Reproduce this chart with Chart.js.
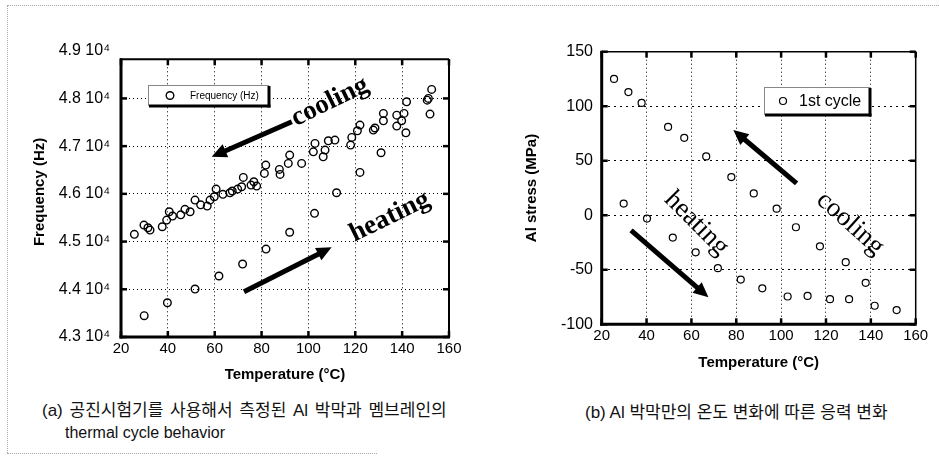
<!DOCTYPE html>
<html><head><meta charset="utf-8">
<script src="https://cdn.jsdelivr.net/npm/chart.js@4/dist/chart.umd.min.js"></script>
<style>
html,body{margin:0;padding:0;background:#fff;}
#page{position:relative;width:939px;height:466px;overflow:hidden;background:#fff;}
.fr{position:absolute;border:0 dotted #a8a8a8;}
canvas{position:absolute;top:0;}
.cap{position:absolute;font-family:"Liberation Sans","Noto Sans CJK KR",sans-serif;color:#111;white-space:nowrap;line-height:20px;}
</style></head>
<body><div id="page">
<div class="fr" style="left:7px;top:5px;width:932px;border-top-width:1px;"></div>
<div class="fr" style="left:7px;top:5px;height:448px;border-left-width:1px;"></div>
<div class="fr" style="left:7px;top:453px;width:370px;border-top-width:1px;"></div>
<canvas id="ca" width="470" height="400" style="left:0"></canvas>
<canvas id="cb" width="469" height="400" style="left:470px"></canvas>
<div class="cap" style="left:42px;top:401px;font-size:17px;word-spacing:2px;">(a) 공진시험기를 사용해서 측정된 Al 박막과 멤브레인의</div>
<div class="cap" style="left:65px;top:423px;font-size:16px;">thermal cycle behavior</div>
<div class="cap" style="left:585px;top:403px;font-size:17px;">(b) Al 박막만의 온도 변화에 따른 응력 변화</div>
</div>
<script>
// ---------- data ----------
const tempTicks = [20, 40, 60, 80, 100, 120, 140, 160];
const freqTickValues = [43000, 44000, 45000, 46000, 47000, 48000, 49000];
const freqTickLabels = ['4.3 10⁴', '4.4 10⁴', '4.5 10⁴', '4.6 10⁴', '4.7 10⁴', '4.8 10⁴', '4.9 10⁴'];
const stressTickValues = [-100, -50, 0, 50, 100, 150];

const freqLabel = 'Frequency (Hz)';
const freqTemp = [
  29.9, 39.8, 51.6, 61.8, 71.9, 81.9, 92.0, 102.6, 112.0, 122.0, 131.0,
  25.7, 29.8, 31.5, 32.4, 37.6, 39.5, 40.6, 42.0, 45.5, 47.3, 49.5, 51.6, 54.0, 56.8, 58.0,
  59.8, 60.6, 63.5, 66.5, 67.5, 69.8, 71.5, 72.2, 75.5, 76.7, 77.9, 81.2, 81.8, 87.6, 87.9,
  91.4, 92.0, 97.1, 102.1, 102.8, 106.3, 107.1, 108.5, 111.3, 118.0, 118.5, 120.9, 122.0,
  127.7, 128.4, 132.0, 132.0, 137.7, 137.7, 139.8, 140.8, 141.6, 141.9, 150.7, 151.2, 151.9, 152.6
];
const freqHz = [
  43446, 43718, 44005, 44278, 44529, 44843, 45195, 45591, 46023, 46450, 46862,
  45151, 45346, 45290, 45241, 45311, 45450, 45625, 45535, 45560, 45675, 45625, 45870, 45770, 45744, 45870,
  45939, 46100, 45990, 46022, 46060, 46100, 46148, 46345, 46184, 46253, 46163, 46429, 46603, 46513, 46408,
  46638, 46812, 46638, 46881, 47057, 46777, 46917, 47112, 47127, 47022, 47183, 47322, 47441,
  47336, 47380, 47531, 47686, 47420, 47650, 47531, 47686, 47280, 47929, 47964, 48000, 47671, 48189
];

const stressLabel = '1st cycle';
const stressTemp = [29.8, 40.2, 51.7, 61.9, 71.8, 82.0, 91.6, 102.9, 111.8, 121.8, 130.3, 141.7, 151.5,
  137.7, 128.8, 117.3, 106.6, 98.0, 87.8, 77.8, 66.6, 56.8, 49.6, 37.8, 31.9, 25.5];
const stressMPa = [10.7, -3, -20.5, -34, -48.5, -59, -67, -74.5, -74, -77, -77, -83, -87,
  -62, -43, -28.5, -11, 6, 20, 35, 54, 71, 81, 103, 113, 125];

// ---------- annotations (data coordinates) ----------
const notesA = {
  texts: [
    {text: 'cooling', x: 109.2, y: 47929, angle: -26, font: 'bold 27px "Liberation Serif"'},
    {text: 'heating', x: 134.8, y: 45520, angle: -26, font: 'bold 27px "Liberation Serif"'}
  ],
  arrows: [
    {from: [92.9, 47510], to: [58.7, 46777], width: 5},
    {from: [72.5, 43949], to: [109.9, 44879], width: 5}
  ]
};
const notesB = {
  texts: [
    {text: 'heating', x: 62.3, y: -7.6, angle: 45, font: '27px "Liberation Serif"'},
    {text: 'cooling', x: 130.8, y: -7.6, angle: 42, font: '27px "Liberation Serif"'}
  ],
  arrows: [
    {from: [33.1, -13.8], to: [67.6, -75.2], width: 5},
    {from: [106.9, 29.2], to: [78.7, 78.2], width: 5}
  ]
};

Chart.defaults.font.family = '"Liberation Sans", Arial, sans-serif';
Chart.defaults.color = '#000';

function line(ctx, x1, y1, x2, y2, w) {
  ctx.lineWidth = w; ctx.beginPath(); ctx.moveTo(x1, y1); ctx.lineTo(x2, y2); ctx.stroke();
}

const decor = {
  id: 'decor',
  afterDatasetsDraw(chart, args, o) {
    const ctx = chart.ctx;
    const {left, right, top, bottom} = chart.chartArea;
    const xs = chart.scales.x, ys = chart.scales.y;
    ctx.save();
    ctx.strokeStyle = '#000';
    ctx.lineCap = 'butt';
    // frame
    line(ctx, left - 1, top, right, top, o.thin);
    line(ctx, right, top, right, bottom, o.thin);
    line(ctx, left, top - 1, left, bottom + 1.5, 3);
    line(ctx, left - 1.5, bottom, right + 1, bottom, 3);
    // inward ticks
    xs.ticks.forEach(t => {
      const px = xs.getPixelForValue(t.value);
      line(ctx, px, bottom, px, bottom - 6, 2.5);
      line(ctx, px, top, px, top + 6, 2.5);
    });
    ys.ticks.forEach(t => {
      if (t.value > ys.max || t.value < ys.min) return;
      const py = ys.getPixelForValue(t.value);
      line(ctx, left, py, left + 6, py, 2.5);
      line(ctx, right, py, right - 6, py, 2.5);
    });
    // legend
    const L = o.legend;
    ctx.fillStyle = '#fff';
    ctx.fillRect(L.x, L.y, L.w, L.h);
    ctx.strokeStyle = '#888';
    line(ctx, L.x, L.y + 0.5, L.x + L.w, L.y + 0.5, 1);
    line(ctx, L.x + 0.5, L.y, L.x + 0.5, L.y + L.h, 1);
    ctx.strokeStyle = '#000';
    line(ctx, L.x + L.w, L.y + 1, L.x + L.w, L.y + L.h + 1.5, 3);
    line(ctx, L.x + 1, L.y + L.h, L.x + L.w + 1.5, L.y + L.h, 3);
    const ds = chart.data.datasets[0];
    ctx.lineWidth = ds.borderWidth;
    ctx.beginPath(); ctx.arc(L.mx, L.y + L.h / 2, ds.pointRadius, 0, Math.PI * 2); ctx.stroke();
    ctx.fillStyle = '#000';
    ctx.font = L.font;
    ctx.textAlign = 'left'; ctx.textBaseline = 'middle';
    ctx.fillText(ds.label, L.tx, L.y + L.h / 2 + 0.5);
    // annotations
    const n = o.notes;
    n.arrows.forEach(a => {
      const x1 = xs.getPixelForValue(a.from[0]), y1 = ys.getPixelForValue(a.from[1]);
      const x2 = xs.getPixelForValue(a.to[0]), y2 = ys.getPixelForValue(a.to[1]);
      const ang = Math.atan2(y2 - y1, x2 - x1);
      const hl = 15, hw = 7;
      const bx = x2 - hl * Math.cos(ang), by = y2 - hl * Math.sin(ang);
      ctx.strokeStyle = '#000';
      line(ctx, x1, y1, bx + Math.cos(ang), by + Math.sin(ang), a.width);
      ctx.beginPath();
      ctx.moveTo(x2, y2);
      ctx.lineTo(bx + hw * Math.sin(ang), by - hw * Math.cos(ang));
      ctx.lineTo(bx - hw * Math.sin(ang), by + hw * Math.cos(ang));
      ctx.closePath(); ctx.fill();
    });
    n.texts.forEach(t => {
      const px = xs.getPixelForValue(t.x), py = ys.getPixelForValue(t.y);
      ctx.save();
      ctx.translate(px, py); ctx.rotate(t.angle * Math.PI / 180);
      ctx.font = t.font; ctx.textAlign = 'center'; ctx.textBaseline = 'middle';
      ctx.fillStyle = '#000';
      ctx.fillText(t.text, 0, 0);
      ctx.restore();
    });
    ctx.restore();
  }
};

function pts(xa, ya) { return xa.map((x, i) => ({x: x, y: ya[i]})); }

// ---------- chart (a) ----------
const FMAX = 48820;
new Chart(document.getElementById('ca'), {
  type: 'scatter',
  data: {datasets: [{
    label: freqLabel, data: pts(freqTemp, freqHz),
    pointStyle: 'circle', pointRadius: 3.8, borderWidth: 1.4,
    borderColor: '#000', backgroundColor: 'rgba(255,255,255,0)'
  }]},
  plugins: [decor],
  options: {
    responsive: false, animation: false, devicePixelRatio: 1,
    layout: {padding: {left: 20, right: 21, top: 59.3, bottom: 16}},
    plugins: {
      legend: {display: false}, tooltip: {enabled: false},
      decor: {thin: 2, notes: notesA,
        legend: {x: 148, y: 85, w: 121, h: 21, mx: 170, tx: 190, font: '10px "Liberation Sans"'}}
    },
    scales: {
      x: {
        type: 'linear', min: 20, max: 160,
        afterBuildTicks: s => { s.ticks = tempTicks.map(v => ({value: v})); },
        afterFit: s => { s.height = 47; },
        grid: {color: '#000', lineWidth: 1, drawTicks: false},
        border: {display: false, dash: [1, 3]},
        ticks: {font: {size: 15}, padding: 3, autoSkip: false, maxRotation: 0},
        title: {display: true, text: 'Temperature (°C)', font: {size: 15, weight: 'bold'}, padding: {top: 0, bottom: 0}}
      },
      y: {
        type: 'linear', min: 43000, max: FMAX,
        afterBuildTicks: s => { s.ticks = freqTickValues.map(v => ({value: v})); },
        afterFit: s => { s.width = 101; },
        grid: {color: c => (c.tick && c.tick.value > FMAX) ? 'rgba(0,0,0,0)' : '#000', lineWidth: 1, drawTicks: false},
        border: {display: false, dash: [1, 3]},
        ticks: {font: {size: 16}, padding: 11, autoSkip: false,
          callback: v => freqTickLabels[freqTickValues.indexOf(v)]},
        title: {display: true, text: '   ' + 'Frequency (Hz)', font: {size: 15, weight: 'bold'}, padding: {top: 11, bottom: 0}}
      }
    }
  }
});

// ---------- chart (b) ----------
new Chart(document.getElementById('cb'), {
  type: 'scatter',
  data: {datasets: [{
    label: stressLabel, data: pts(stressTemp, stressMPa),
    pointStyle: 'circle', pointRadius: 3.5, borderWidth: 1.2,
    borderColor: '#000', backgroundColor: 'rgba(255,255,255,0)'
  }]},
  plugins: [decor],
  options: {
    responsive: false, animation: false, devicePixelRatio: 1,
    layout: {padding: {left: 40, right: 23.3, top: 51.7, bottom: 27.7}},
    plugins: {
      legend: {display: false}, tooltip: {enabled: false},
      decor: {thin: 1.5, notes: notesB,
        legend: {x: 294, y: 87, w: 106, h: 28, mx: 313, tx: 329, font: '16px "Liberation Sans"'}}
    },
    scales: {
      x: {
        type: 'linear', min: 20, max: 160,
        afterBuildTicks: s => { s.ticks = tempTicks.map(v => ({value: v})); },
        afterFit: s => { s.height = 48; },
        grid: {color: '#000', lineWidth: 1, drawTicks: false},
        border: {display: false, dash: [1, 3]},
        ticks: {font: {size: 15}, padding: 3, autoSkip: false, maxRotation: 0},
        title: {display: true, text: 'Temperature (°C)', font: {size: 15, weight: 'bold'}, padding: {top: 0, bottom: 0}}
      },
      y: {
        type: 'linear', min: -100, max: 150,
        afterBuildTicks: s => { s.ticks = stressTickValues.map(v => ({value: v})); },
        afterFit: s => { s.width = 91.7; },
        grid: {color: '#000', lineWidth: 1, drawTicks: false},
        border: {display: false, dash: [2, 4]},
        ticks: {font: {size: 16}, padding: 8.7, autoSkip: false},
        title: {display: true, text: 'Al stress (MPa)', font: {size: 15, weight: 'bold'}, padding: {top: 13, bottom: 0}}
      }
    }
  }
});
</script>
</body></html>
